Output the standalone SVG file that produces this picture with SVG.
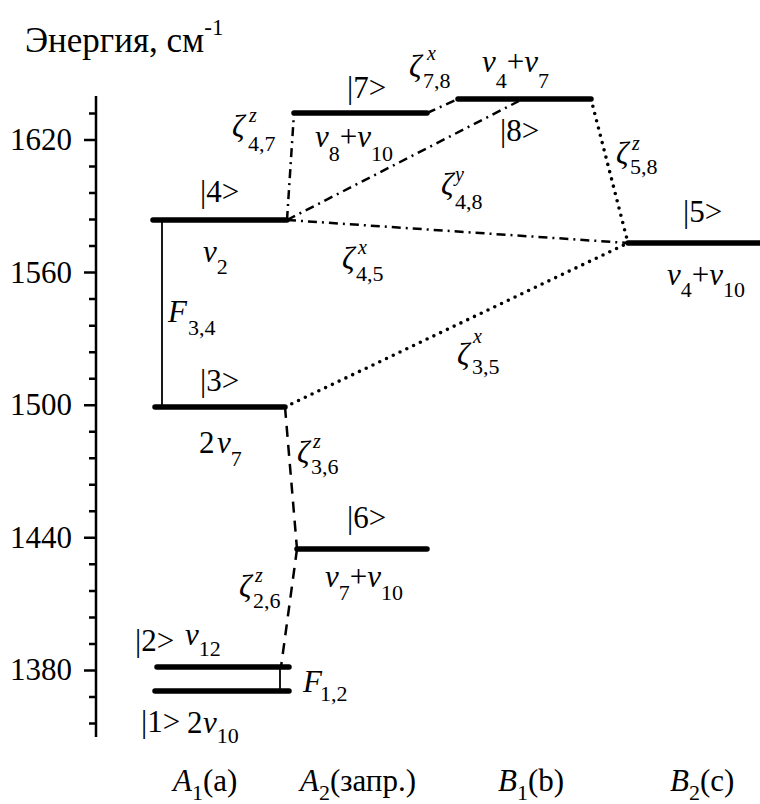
<svg xmlns="http://www.w3.org/2000/svg" width="760" height="804" viewBox="0 0 760 804">
<style>
text{font-family:'Liberation Serif','Times New Roman',serif;font-size:31px;fill:#000}
.i{font-style:italic}
.sb{font-size:22px}
.sp{font-size:20px;font-style:italic}
.lv{stroke:#000;stroke-width:5.5;stroke-linecap:round;fill:none}
.ax{stroke:#000;stroke-width:2.5;fill:none}
.th{stroke:#000;stroke-width:1.8;fill:none}
.dd{stroke:#000;stroke-width:2.5;fill:none;stroke-dasharray:9 5 2 5}
.dt{stroke:#000;stroke-width:3.6;fill:none;stroke-dasharray:0 7.5;stroke-linecap:round}
.ds{stroke:#000;stroke-width:2.5;fill:none;stroke-dasharray:11 8}
</style>
<rect width="760" height="804" fill="#fff"/>
<g id="title"><text x="25" y="52" style="font-size:35px">Энергия, см<tspan dy="-17" style="font-size:23px">-1</tspan></text></g>
<g id="axis">
<path class="ax" d="M96 96V737"/>
<path class="ax" d="M84 140H96M84 272.6H96M84 405.2H96M84 537.8H96M84 670.4H96"/>
<path class="ax" d="M89 113.5H96M89 166.5H96M89 193.1H96M89 219.6H96M89 246.1H96M89 299.1H96M89 325.7H96M89 352.2H96M89 378.7H96M89 431.7H96M89 458.3H96M89 484.8H96M89 511.3H96M89 564.3H96M89 590.9H96M89 617.4H96M89 643.9H96M89 696.9H96M89 723.5H96"/>
<g text-anchor="end">
<text x="72" y="150">1620</text>
<text x="72" y="283">1560</text>
<text x="72" y="415">1500</text>
<text x="72" y="548">1440</text>
<text x="72" y="680">1380</text>
</g>
</g>
<g id="connectors">
<path class="th" d="M162 222V407"/>
<path class="th" d="M280 668V691"/>
<path class="dd" d="M287 220L294 113"/>
<path class="dd" d="M427 113L458 99"/>
<path class="dd" d="M287 220L519 101"/>
<path class="dd" d="M287 220L628 243"/>
<path class="dt" d="M591 99L628 243"/>
<path class="dt" d="M285 407L628 243"/>
<path class="ds" d="M285 407L297 549"/>
<path class="ds" d="M297 549L281 667"/>
<text x="168" y="322" class="i">F</text><text x="188" y="335" class="sb">3,4</text>
<text x="303" y="692" class="i">F</text><text x="320" y="701" class="sb">1,2</text>
<text x="232" y="137" class="i">ζ</text><text x="249" y="122" class="sp">z</text><text x="248" y="151" class="sb">4,7</text>
<text x="409" y="77" class="i">ζ</text><text x="427" y="60" class="sp">x</text><text x="423" y="88" class="sb">7,8</text>
<text x="616" y="164" class="i">ζ</text><text x="632" y="150" class="sp">z</text><text x="630" y="174" class="sb">5,8</text>
<text x="441" y="195" class="i">ζ</text><text x="455" y="181" class="sp">y</text><text x="455" y="209" class="sb">4,8</text>
<text x="342" y="269" class="i">ζ</text><text x="358" y="254" class="sp">x</text><text x="356" y="281" class="sb">4,5</text>
<text x="457" y="365" class="i">ζ</text><text x="473" y="343" class="sp">x</text><text x="472" y="374" class="sb">3,5</text>
<text x="297" y="463" class="i">ζ</text><text x="313" y="448" class="sp">z</text><text x="311" y="474" class="sb">3,6</text>
<text x="239" y="597" class="i">ζ</text><text x="255" y="582" class="sp">z</text><text x="253" y="608" class="sb">2,6</text>
</g>
<g id="level7">
<path class="lv" d="M294 113H427"/>
<text x="347" y="98">|7&gt;</text>
<text x="315" y="147"><tspan class="i">ν</tspan><tspan class="sb" dy="14">8</tspan><tspan dy="-14">+</tspan><tspan class="i">ν</tspan><tspan class="sb" dy="14">10</tspan></text>
</g>
<g id="level8">
<path class="lv" d="M458 99H591"/>
<text x="482" y="72"><tspan class="i">ν</tspan><tspan class="sb" dy="16">4</tspan><tspan dy="-16">+</tspan><tspan class="i">ν</tspan><tspan class="sb" dy="16">7</tspan></text>
<text x="500" y="141">|8&gt;</text>
</g>
<g id="level4">
<path class="lv" d="M153 220H287"/>
<text x="200" y="202">|4&gt;</text>
<text x="203" y="262"><tspan class="i">ν</tspan><tspan class="sb" dy="12">2</tspan></text>
</g>
<g id="level5">
<path class="lv" d="M628 243H762"/>
<text x="683" y="222">|5&gt;</text>
<text x="667" y="285"><tspan class="i">ν</tspan><tspan class="sb" dy="12">4</tspan><tspan dy="-12">+</tspan><tspan class="i">ν</tspan><tspan class="sb" dy="12">10</tspan></text>
</g>
<g id="level3">
<path class="lv" d="M155 407H285"/>
<text x="200" y="391">|3&gt;</text>
<text x="199" y="453">2</text>
<text x="217" y="453"><tspan class="i">ν</tspan><tspan class="sb" dy="13">7</tspan></text>
</g>
<g id="level6">
<path class="lv" d="M297 549H427"/>
<text x="347" y="528">|6&gt;</text>
<text x="325" y="587"><tspan class="i">ν</tspan><tspan class="sb" dy="13">7</tspan><tspan dy="-13">+</tspan><tspan class="i">ν</tspan><tspan class="sb" dy="13">10</tspan></text>
</g>
<g id="level2">
<path class="lv" d="M157 667H289"/>
<text x="135" y="651">|2&gt;</text>
<text x="185" y="645"><tspan class="i">ν</tspan><tspan class="sb" dy="11">12</tspan></text>
</g>
<g id="level1">
<path class="lv" d="M155 691H289"/>
<text x="141" y="732">|1&gt;</text>
<text x="187" y="733">2</text>
<text x="203" y="733"><tspan class="i">ν</tspan><tspan class="sb" dy="10">10</tspan></text>
</g>
<g id="symmetry-labels">
<text x="173" y="791"><tspan class="i">A</tspan><tspan class="sb" dy="9">1</tspan><tspan dy="-9">(a)</tspan></text>
<text x="300" y="791"><tspan class="i">A</tspan><tspan class="sb" dy="9">2</tspan><tspan dy="-9">(запр.)</tspan></text>
<text x="498" y="791"><tspan class="i">B</tspan><tspan class="sb" dy="9">1</tspan><tspan dy="-9">(b)</tspan></text>
<text x="670" y="791"><tspan class="i">B</tspan><tspan class="sb" dy="9">2</tspan><tspan dy="-9">(c)</tspan></text>
</g>
</svg>
